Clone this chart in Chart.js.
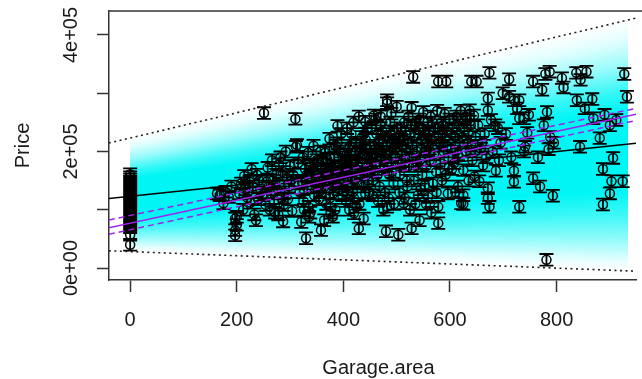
<!DOCTYPE html>
<html>
<head>
<meta charset="utf-8">
<script src="https://cdn.jsdelivr.net/npm/chart.js@4.4.1/dist/chart.umd.min.js"></script>
<style>
  html, body { margin: 0; padding: 0; background: #fff; }
  #wrap { width: 642px; height: 379px; }
</style>
</head>
<body>
<div id="wrap"><canvas id="chart" width="642" height="379"></canvas></div>
<script>
const garageArea = [
  0,0,0,0,0,0,0,0,0,0,0,0,0,0,0,0,0,0,0,0,0,0,0,0,0,0,0,0,0,0,0,0,
  163,168,175,179,185,190,197,197,197,200,200,
  205,208,212,216,220,224,226,230,233,236,238,240,214,228,
  242,245,248,251,254,256,258,260,262,264,266,268,270,272,274,276,278,279,
  280,282,284,286,287,288,290,292,294,296,298,300,302,304,306,308,310,311,313,315,318,316,
  321,322,324,325,326,328,330,331,332,334,335,336,338,339,340,342,344,345,348,350,352,354,355,357,358,358,
  360,362,364,366,366,368,370,372,374,375,376,378,380,380,382,383,385,386,388,389,389,390,392,394,395,396,398,398,
  401,402,404,405,406,407,408,410,411,412,414,415,416,418,419,420,420,422,424,425,426,428,429,429,430,432,433,434,435,436,438,438,
  440,441,441,442,444,445,446,448,449,450,452,454,455,456,457,458,460,460,462,464,465,466,468,469,470,470,472,474,475,476,478,479,
  480,480,482,482,482,484,485,486,488,490,490,492,494,495,496,498,499,500,502,503,504,505,506,508,510,512,513,514,515,516,518,519,
  520,522,524,525,526,528,528,530,531,532,534,535,536,538,540,542,543,544,545,546,548,549,550,552,553,554,555,556,558,559,
  560,562,564,565,566,568,570,572,574,575,576,578,578,578,580,582,584,585,586,588,590,592,593,594,596,597,598,599,
  602,604,605,608,610,610,612,615,615,618,620,621,625,625,625,627,630,632,635,635,637,640,640,642,645,646,648,650,653,655,658,660,
  662,665,668,671,671,671,671,674,674,677,680,685,686,690,692,695,699,
  705,711,711,715,720,720,720,726,730,730,730,739,739,741,745,748,
  756,756,765,769,773,776,779,781,782,785,787,788,793,795,
  810,813,837,838,844,845,853,856,867,869,881,887,887,890,900,900,903,906,912,924,927,932,
  // dense core
  342,346,352,356,361,365,369,373,377,381,384,387,391,393,397,
  403,407,409,413,417,421,423,427,431,437,439,443,447,451,453,459,
  461,463,467,471,473,477,481,483,487,489,491,493,497,501,507,509,511,517,
  521,523,527,529,533,537,539,541,547,551,557,561,563,567,571,577,583,587,591,595,
  603,607,611,617,623,629,633,639,647
];
const priceK = [
  161,156,152,148,145,142,139,136,133,130,127,124,121,118,115,112,109,106,103,100,97,94,91,88,85,82,79,76,73,70,57,40,
  128,125,111,131,122,140,85,65,56,88,74,
  128,145,100,135,120,148,112,140,92,82,160,118,158,170,
  150,130,125,266,108,148,172,140,100,128,185,150,115,95,160,135,92,178,
  145,190,120,165,80,108,130,200,155,118,140,175,150,98,160,180,256,208,211,180,130,145,
  79,148,190,115,100,170,51,160,138,198,105,88,95,175,155,171,210,125,145,185,140,118,155,200,171,65,
  130,185,82,148,198,110,171,160,222,120,95,175,140,88,205,190,100,210,155,244,214,165,135,200,170,230,125,180,
  160,150,175,115,195,240,140,165,100,210,185,230,155,130,250,94,120,200,170,105,145,190,260,68,110,160,215,205,225,178,85,140,
  195,251,128,220,165,240,150,185,130,210,170,195,125,150,262,210,180,255,230,160,115,200,140,175,245,260,185,215,100,170,130,225,
  195,63,288,283,105,225,120,160,250,180,265,205,145,110,235,190,215,277,180,57,215,130,160,240,195,225,111,250,120,175,205,150,
  140,260,190,100,230,275,68,210,328,150,245,110,175,200,125,255,82,185,135,220,160,240,268,200,142,230,110,175,250,122,
  210,185,260,95,220,145,195,240,165,130,270,320,105,77,215,180,250,150,230,200,265,160,320,235,128,190,172,255,
  205,170,240,180,225,130,260,195,140,215,270,111,168,125,110,237,200,255,230,150,271,320,210,185,262,157,225,320,245,149,205,215,
  176,230,190,291,271,137,120,335,105,254,200,245,167,240,185,215,300,
  230,324,294,190,288,167,148,274,288,257,105,257,200,208,232,263,
  320,154,190,140,306,245,333,14,268,204,337,225,124,215,
  326,310,335,288,208,323,274,337,290,257,223,170,109,263,245,128,149,189,254,149,333,294,
  // dense core
  150,165,178,132,158,140,188,150,162,128,175,145,190,152,160,
  185,128,205,170,182,150,215,175,198,165,230,205,175,190,240,165,
  205,190,220,200,235,190,210,175,200,230,165,220,205,240,220,185,210,235,
  215,175,245,190,225,250,180,230,205,235,215,235,200,250,225,240,210,245,225,210,
  230,255,200,245,225,260,215,245,200
];
const errK = 10;   // half length of each error bar (thousands)

// straight lines, given at the two ends of the x range
const lineX = [-40, 980];
const fitLine = [119200, 217100];
const predUpper = [214500, 435700];
const predLower = [29600, -6600];
const olsFit = [69100, 270000];
const olsUpper = [82400, 280100];
const olsLower = [57800, 259300];
const bandX = [0, 934];   // x range of the shaded band

const xTicks = [0, 200, 400, 600, 800];
const xTickLabels = ['0', '200', '400', '600', '800'];
const yTicks = [0, 100000, 200000, 300000, 400000];
const yTickLabels = ['0e+00', '', '2e+05', '', '4e+05'];
const xPlotMax = 971.4;   // right end of the original plot region (cut off in the picture)

const FONT = '"Liberation Sans", Arial, sans-serif';
const TXT = '#1a1a1a';

const linePts = (arr) => lineX.map((x, i) => ({ x: x, y: arr[i] }));

const shadePlugin = {
  id: 'shade',
  beforeDatasetsDraw(chart) {
    const { ctx, chartArea, scales: { x, y } } = chart;
    const valAt = (arr, v) => arr[0] + (v - lineX[0]) / (lineX[1] - lineX[0]) * (arr[1] - arr[0]);
    const x0 = Math.round(x.getPixelForValue(bandX[0]));
    const x1 = Math.round(x.getPixelForValue(bandX[1]));
    const stops = [[0, 0], [0.08, 0.12], [0.18, 0.4], [0.28, 0.78], [0.36, 1], [0.68, 1], [0.78, 0.75], [0.88, 0.4], [0.96, 0.1], [1, 0]];
    ctx.save();
    ctx.beginPath();
    ctx.rect(chartArea.left, chartArea.top, chartArea.width, chartArea.height);
    ctx.clip();
    for (let px = x0; px < x1; px++) {
      const v = x.getValueForPixel(px + 0.5);
      const top = y.getPixelForValue(valAt(predUpper, v));
      const bot = y.getPixelForValue(valAt(predLower, v));
      const g = ctx.createLinearGradient(0, top, 0, bot);
      stops.forEach(s => g.addColorStop(s[0], 'rgba(0,245,245,' + s[1] + ')'));
      ctx.fillStyle = g;
      ctx.fillRect(px, top, 1, bot - top);
    }
    ctx.restore();
  }
};

const errorBarPlugin = {
  id: 'errbars',
  beforeDatasetDraw(chart, args) {
    if (chart.data.datasets[args.index].label !== 'points') return;
    const { ctx, chartArea, scales: { x, y } } = chart;
    const cap = 7;
    ctx.save();
    ctx.beginPath();
    ctx.rect(chartArea.left, chartArea.top, chartArea.width, chartArea.height);
    ctx.clip();
    ctx.strokeStyle = '#000';
    ctx.lineWidth = 1.8;
    ctx.beginPath();
    garageArea.forEach((g, i) => {
      const px = x.getPixelForValue(g);
      const yt = y.getPixelForValue((priceK[i] + errK) * 1000);
      const yb = y.getPixelForValue((priceK[i] - errK) * 1000);
      ctx.moveTo(px, yt); ctx.lineTo(px, yb);
      ctx.moveTo(px - cap, yt); ctx.lineTo(px + cap, yt);
      ctx.moveTo(px - cap, yb); ctx.lineTo(px + cap, yb);
    });
    ctx.stroke();
    ctx.restore();
  }
};

// top edge of the box, and the x title centred on the full (cut off) plot region
const framePlugin = {
  id: 'frame',
  afterDraw(chart) {
    const { ctx, chartArea, scales: { x } } = chart;
    ctx.save();
    ctx.strokeStyle = '#333';
    ctx.lineWidth = 1.5;
    ctx.beginPath();
    ctx.moveTo(chartArea.left, chartArea.top);
    ctx.lineTo(chart.width, chartArea.top);
    ctx.stroke();
    ctx.fillStyle = TXT;
    ctx.font = '20px ' + FONT;
    ctx.textAlign = 'center';
    ctx.textBaseline = 'middle';
    ctx.fillText('Garage.area', (chartArea.left + x.getPixelForValue(xPlotMax)) / 2, 368);
    ctx.restore();
  }
};

new Chart(document.getElementById('chart'), {
  type: 'scatter',
  data: {
    datasets: [
      { label: 'ols', type: 'line', data: linePts(olsFit), borderColor: '#a020f0', borderWidth: 1.5, pointRadius: 0, order: 0 },
      { label: 'olsUp', type: 'line', data: linePts(olsUpper), borderColor: '#a020f0', borderWidth: 1.5, borderDash: [6, 4], pointRadius: 0, order: 1 },
      { label: 'olsLo', type: 'line', data: linePts(olsLower), borderColor: '#a020f0', borderWidth: 1.5, borderDash: [6, 4], pointRadius: 0, order: 1 },
      { label: 'predUp', type: 'line', data: linePts(predUpper), borderColor: '#222', borderWidth: 1.6, borderDash: [2, 3.5], pointRadius: 0, order: 2 },
      { label: 'predLo', type: 'line', data: linePts(predLower), borderColor: '#222', borderWidth: 1.6, borderDash: [2, 3.5], pointRadius: 0, order: 2 },
      { label: 'fit', type: 'line', data: linePts(fitLine), borderColor: '#000', borderWidth: 1.5, pointRadius: 0, order: 3 },
      {
        label: 'points',
        data: garageArea.map((g, i) => ({ x: g, y: priceK[i] * 1000 })),
        pointStyle: 'circle',
        pointRadius: 4.5,
        pointHoverRadius: 4.5,
        pointBorderWidth: 1.5,
        pointBackgroundColor: 'rgba(0,0,0,0)',
        pointBorderColor: '#000',
        order: 4
      }
    ]
  },
  options: {
    responsive: false,
    animation: false,
    devicePixelRatio: 1,
    events: [],
    layout: { padding: { top: 11, left: 0, right: 0, bottom: 0 } },
    plugins: { legend: { display: false }, tooltip: { enabled: false } },
    scales: {
      x: {
        type: 'linear',
        min: -39.7,
        max: 949,
        afterFit: s => { s.height = 99; },
        afterBuildTicks: s => { s.ticks = xTicks.map(v => ({ value: v })); },
        grid: { drawOnChartArea: false, drawTicks: true, tickLength: 12, tickColor: '#333', tickWidth: 1.5 },
        border: { display: true, color: '#333', width: 1.5 },
        ticks: {
          padding: 16, color: TXT, maxRotation: 0, autoSkip: false,
          font: { family: FONT, size: 20 },
          callback: (v, i) => xTickLabels[i]
        },
        title: { display: false }
      },
      y: {
        type: 'linear',
        min: -20600,
        max: 441200,
        afterFit: s => { s.width = 109; },
        afterBuildTicks: s => { s.ticks = yTicks.map(v => ({ value: v })); },
        grid: { drawOnChartArea: false, drawTicks: true, tickLength: 12, tickColor: '#333', tickWidth: 1.5 },
        border: { display: true, color: '#333', width: 1.5 },
        ticks: {
          padding: -3, color: TXT, minRotation: 90, maxRotation: 90, crossAlign: 'center', autoSkip: false,
          font: { family: FONT, size: 20 },
          callback: (v, i) => yTickLabels[i]
        },
        title: { display: true, text: 'Price', color: TXT, font: { family: FONT, size: 20 }, padding: { top: 11, bottom: 0 } }
      }
    }
  },
  plugins: [shadePlugin, errorBarPlugin, framePlugin]
});
</script>
</body>
</html>
